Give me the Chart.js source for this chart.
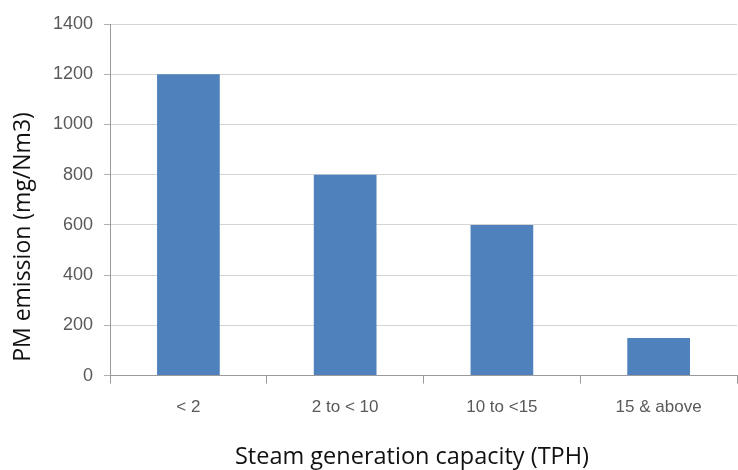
<!DOCTYPE html>
<html>
<head>
<meta charset="utf-8">
<script src="https://cdn.jsdelivr.net/npm/chart.js@4/dist/chart.umd.min.js"></script>
<style>
html,body{margin:0;padding:0;background:#fff;}
#wrap{width:738px;height:470px;position:relative;}
</style>
</head>
<body>
<div id="wrap"><canvas id="c"></canvas></div>
<script>
const categories = ["< 2", "2 to < 10", "10 to <15", "15 & above"];
const pmEmission = [1200, 800, 600, 150];
const yTicks = [0, 200, 400, 600, 800, 1000, 1200, 1400];
const xTitle = "Steam generation capacity (TPH)";
const yTitle = "PM emission (mg/Nm3)";

const titlePlugin = {
  id: 'titles',
  afterDraw(chart) {
    const ctx = chart.ctx;
    ctx.save();
    ctx.fillStyle = '#111';
    ctx.textAlign = 'center';
    ctx.textBaseline = 'middle';
    ctx.font = '400 23.5px "Open Sans"';
    ctx.fillText(xTitle, 412, 457);
    ctx.translate(23, 237);
    ctx.rotate(-Math.PI / 2);
    ctx.font = '400 23px "Open Sans"';
    ctx.fillText(yTitle, 0, 0);
    ctx.restore();
  }
};

new Chart(document.getElementById('c'), {
  type: 'bar',
  data: {
    labels: categories,
    datasets: [{
      label: 'PM emission',
      data: pmEmission,
      backgroundColor: '#4F81BD',
      borderWidth: 0,
      barPercentage: 0.8,
      categoryPercentage: 0.5
    }]
  },
  plugins: [titlePlugin],
  options: {
    responsive: true,
    maintainAspectRatio: false,
    animation: false,
    layout: { padding: { top: 24, right: 1, left: 42, bottom: 38 } },
    plugins: { legend: { display: false }, tooltip: { enabled: false } },
    scales: {
      x: {
        grid: { offset: true, drawOnChartArea: false, tickLength: 8, color: '#9a9a9a' },
        border: { color: '#9a9a9a' },
        ticks: { color: '#595959', font: { family: 'Liberation Sans', size: 17 }, padding: 14 }
      },
      y: {
        min: 0, max: 1400,
        afterBuildTicks: (s) => { s.ticks = yTicks.map(v => ({ value: v })); },
        grid: { color: '#d4d4d4', tickLength: 6, tickColor: '#b0b0b0' },
        border: { color: '#9a9a9a' },
        ticks: { color: '#595959', font: { family: 'Liberation Sans', size: 18 }, padding: 11, callback: (v) => String(v) }
      }
    }
  }
});
</script>
</body>
</html>
